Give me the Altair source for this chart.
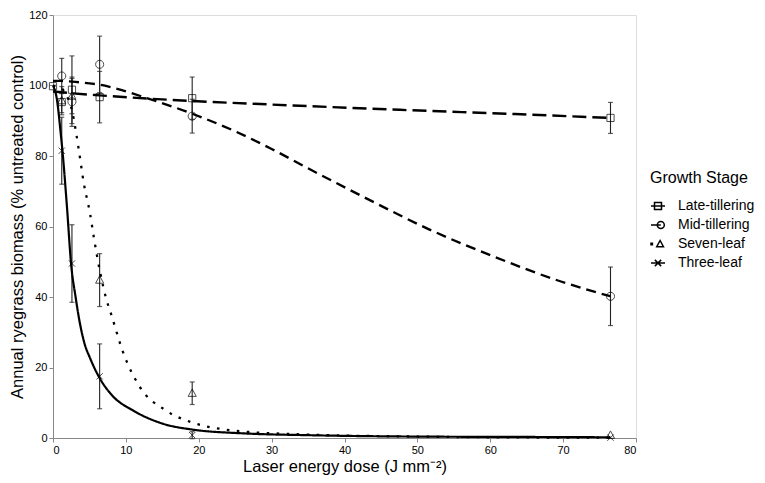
import altair as alt
import pandas as pd

stages = ["Late-tillering", "Mid-tillering", "Seven-leaf", "Three-leaf"]

# measured doses (J mm^-2)
doses = [1.2, 2.6, 6.4, 19.1, 76.5]

# observed means and standard errors
late_mean = [95.3, 98.8, 96.7, 96.4, 90.8]
late_se = [3.0, 9.6, 7.3, 6.0, 4.4]
mid_mean = [102.7, 95.4, 106.0, 91.3, 40.2]
mid_se = [5.0, 7.0, 8.0, 4.8, 8.3]
seven_mean = [95.7, 97.0, 44.8, 12.7, 0.8]
seven_se = [4.0, 5.0, 7.5, 3.2, 0.0]
three_mean = [81.5, 49.5, 17.5, 0.8, 0.1]
three_se = [9.5, 11.0, 9.2, 1.0, 0.0]

control_dose = [0.0]
control_late = [99.8]

# fitted curves
late_cx = [0, 2.6, 6.4, 19.1, 30, 47.6, 63.4, 76.5]
late_cy = [98.3, 97.8, 97.2, 95.6, 94.6, 93.1, 91.9, 90.8]
mid_cx = [0, 1, 2.6, 5, 6.5, 8.2, 13.2, 19.1, 25, 30, 35, 42.6, 51.6, 60.7, 69.7, 76.5]
mid_cy = [101.3, 101.3, 101.1, 100.6, 100.2, 99.4, 96.2, 92.0, 87.0, 82.0, 76.5, 68.4, 59.2, 51.3, 44.4, 40.2]
seven_cx = [0, 1, 2, 2.6, 3.1, 3.5, 4.25, 5.1, 5.6, 6.5, 7.3, 8, 9.6, 11.85, 15.5, 19.1, 23.6, 27, 33, 40, 50, 60, 76.5]
seven_cy = [100, 99.5, 96.5, 93, 87.5, 82.3, 72, 63.5, 57, 46.7, 39.5, 35, 24.4, 14.7, 7.8, 4.4, 2.4, 1.7, 1.1, 0.7, 0.4, 0.2, 0.1]
three_cx = [0, 0.5, 1.1, 1.3, 1.9, 2.5, 3.1, 3.65, 4.3, 5.1, 6.4, 8.2, 11, 15, 19.1, 26.3, 35, 50, 65, 76.5]
three_cy = [100, 96.5, 85.6, 81.4, 66, 49, 40, 33, 27, 22.6, 17, 11.9, 7.8, 4.1, 2.4, 1.3, 0.8, 0.4, 0.3, 0.2]

x_ticks = [0, 10, 20, 30, 40, 50, 60, 70, 80]
y_ticks = [0, 20, 40, 60, 80, 100, 120]

# ---- tables ----
rows = []
for st, ms, ss in zip(stages, [late_mean, mid_mean, seven_mean, three_mean],
                      [late_se, mid_se, seven_se, three_se]):
    for d, m, s in zip(doses, ms, ss):
        rows.append({"stage": st, "dose": d, "value": m, "lo": m - s, "hi": m + s, "se": s})
pts = pd.DataFrame(rows)
ctrl = pd.DataFrame({"stage": ["Late-tillering"], "dose": control_dose, "value": control_late})
pts_all = pd.concat([pts[["stage", "dose", "value"]], ctrl], ignore_index=True)
bars = pts[pts["se"] > 0]

crows = []
for st, cx, cy in zip(stages, [late_cx, mid_cx, seven_cx, three_cx],
                      [late_cy, mid_cy, seven_cy, three_cy]):
    for a, b in zip(cx, cy):
        crows.append({"stage": st, "dose": a, "value": b})
curves = pd.DataFrame(crows)

FONT = "Liberation Sans"
xscale = alt.Scale(domain=[0, 80], nice=False, zero=False)
yscale = alt.Scale(domain=[0, 120], nice=False, zero=False)
xaxis = alt.Axis(values=x_ticks, title="Laser energy dose (J mm⁻²)", grid=False,
                 labelFontSize=11, titleFontSize=16.5, labelPadding=2, titlePadding=3,
                 tickSize=4, titleFontWeight="normal")
yaxis = alt.Axis(values=y_ticks, title="Annual ryegrass biomass (% untreated control)",
                 grid=False, labelFontSize=11, titleFontSize=16.5, labelPadding=2,
                 titlePadding=3, tickSize=4, titleFontWeight="normal")


def X(f="dose"):
    return alt.X(f + ":Q", scale=xscale, axis=xaxis)


def Y(f="value"):
    return alt.Y(f + ":Q", scale=yscale, axis=yaxis)


sq = "M-0.8,-0.8H0.8V0.8H-0.8Z"
ci = "M0.9,0A0.9,0.9 0 1,1 -0.9,0A0.9,0.9 0 1,1 0.9,0Z"
tri = "M0,-0.95L0.9,0.7H-0.9Z"
xx = "M-0.7,-0.7L0.7,0.7M-0.7,0.7L0.7,-0.7"

leg_late = "M-1,0H1M-0.5,-0.5H0.5V0.5H-0.5Z"
leg_mid = "M-1,0H0.4M0.9,0A0.5,0.5 0 1,1 -0.1,0A0.5,0.5 0 1,1 0.9,0Z"
leg_seven = "M-1,-0.1H-0.8V0.1H-1ZM0.3,-0.5L0.78,0.38H-0.18Z"
leg_three = "M-1,0H1M-0.45,-0.45L0.45,0.45M-0.45,0.45L0.45,-0.45"

err = alt.Chart(bars).mark_rule(color="#222", strokeWidth=1.1).encode(
    x=X(), y=Y("lo"), y2="hi")
cap_lo = alt.Chart(bars).mark_tick(color="#222", orient="horizontal", size=5, thickness=1.2).encode(
    x=X(), y=Y("lo"))
cap_hi = alt.Chart(bars).mark_tick(color="#222", orient="horizontal", size=5, thickness=1.2).encode(
    x=X(), y=Y("hi"))

lines = alt.Chart(curves).mark_line(color="black", interpolate="monotone").encode(
    x=X(), y=Y(), detail="stage:N",
    strokeDash=alt.StrokeDash("stage:N", scale=alt.Scale(domain=stages,
                              range=[[14, 6], [10, 6], [2.6, 7.4], [1, 0]]), legend=None),
    strokeWidth=alt.StrokeWidth("stage:N", scale=alt.Scale(domain=stages,
                                range=[2.4, 2.2, 2.8, 2.4]), legend=None),
)

points = alt.Chart(pts_all).mark_point(filled=False, color="black", strokeWidth=1, size=81).encode(
    x=X(), y=Y(),
    shape=alt.Shape("stage:N", scale=alt.Scale(domain=stages, range=[sq, ci, tri, xx]), legend=None),
)

legend_layer = alt.Chart(pts_all).mark_point(filled=False, color="black", opacity=0, strokeWidth=1.5).encode(
    x=X(), y=Y(),
    shape=alt.Shape("stage:N", scale=alt.Scale(domain=stages,
                    range=[leg_late, leg_mid, leg_seven, leg_three]),
                    legend=alt.Legend(title="Growth Stage", orient="none", legendX=597, legendY=155,
                                      titleFontSize=16, titleFontWeight="normal", titleFont=FONT,
                                      labelFontSize=14, labelFont=FONT, symbolSize=196,
                                      symbolStrokeWidth=1.5, symbolOpacity=1,
                                      symbolStrokeColor="black", symbolFillColor="transparent",
                                      labelOffset=12, rowPadding=4, titlePadding=12, padding=0,
                                      titleColor="black", labelColor="black")),
)

chart = alt.layer(err, cap_lo, cap_hi, lines, points, legend_layer).resolve_scale(
    shape="independent"
).properties(
    width=583, height=423,
    autosize=alt.AutoSizeParams(type="none"),
    padding={"left": 45, "top": 7, "right": 121, "bottom": 37},
).configure_view(stroke=None).configure_axis(
    labelFont=FONT, titleFont=FONT, titleFontWeight="normal", domainColor="black",
    tickColor="black", labelColor="black", titleColor="black", domainWidth=1, tickWidth=1,
).configure(background="white")

chart.save("out.html", embed_options={"renderer": "svg", "actions": False})
